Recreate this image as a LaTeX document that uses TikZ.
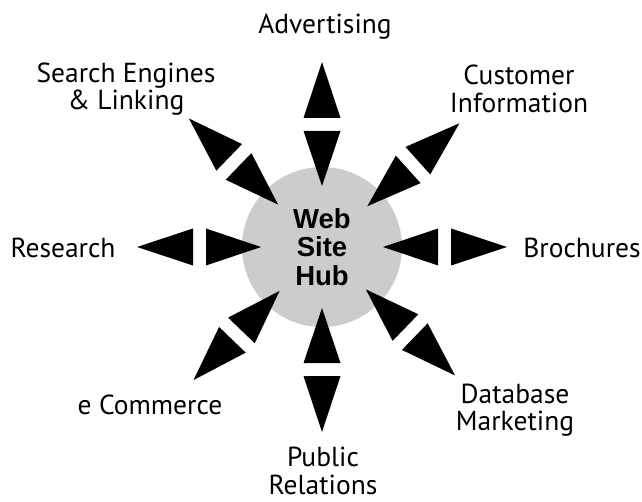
\documentclass[tikz,border=0pt]{standalone}
\usepackage{fontspec}
\setmainfont{PT Sans}
\newfontfamily\hubfont{Liberation Sans}
\definecolor{hubgray}{RGB}{204,204,204}
\tikzset{
  lbl/.style={align=center, inner sep=0pt, font=\fontsize{27.5}{27.5}\selectfont},
  hub/.style={circle, fill=hubgray, minimum size=160pt, inner sep=0pt, align=center,
              font=\hubfont\bfseries\fontsize{27.5}{28.5}\selectfont},
  tri/.style={fill=black, draw=none}
}
\begin{document}
\begin{tikzpicture}[x=1pt, y=-1pt]
\useasboundingbox (0,0) rectangle (642,502);
\node[hub] (hub) at (322,247) {Web\\Site\\Hub};
\coordinate (C) at (322,247);
\foreach \a in {90,42,0,-44,-90,-134,180,136}{
  \begin{scope}[shift={(C)}, rotate=\a]
    \fill[tri] (61,0) -- (116,18.5) -- (116,-18.5) -- cycle;
    \fill[tri] (129,18.5) -- (129,-18.5) -- (185,0) -- cycle;
  \end{scope}
}
\node[lbl] (adv) at (325,27) {Advertising};
\node[lbl] (seo) at (126,89) {Search Engines\\\& Linking};
\node[lbl] (cust) at (519,89) {Customer\\Information};
\node[lbl] (res) at (63,248) {Research};
\node[lbl] (broch) at (582,248) {Brochures};
\node[lbl] (ecom) at (150,405) {e Commerce};
\node[lbl] (db) at (515,410) {Database\\Marketing};
\node[lbl] (pr) at (323,471) {Public\\Relations};
\end{tikzpicture}
\end{document}
